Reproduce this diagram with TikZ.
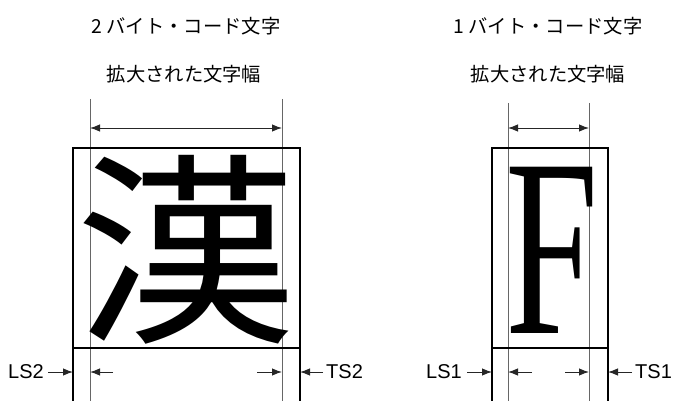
\documentclass[tikz,border=0pt]{standalone}
\usepackage{fontspec}
\setmainfont{Liberation Sans}
\newfontfamily\jpfont{Noto Sans CJK JP}
\newfontfamily\serifglyph{Liberation Serif}
\usetikzlibrary{arrows.meta}
\begin{document}
\begin{tikzpicture}[x=1pt,y=-1pt,
  thick edge/.style={line width=2pt,black},
  thin guide/.style={line width=1pt,black!60},
  dimarrow/.style={line width=1pt,black!85,-{Latex[length=10pt,width=7.5pt]}},
  dimboth/.style={line width=1pt,black!85,{Latex[length=10pt,width=7.5pt]}-{Latex[length=10pt,width=7.5pt]}},
  jplabel/.style={font=\jpfont\fontsize{19.3}{21}\selectfont,inner sep=0pt},
  lslabel/.style={font=\fontsize{20}{22}\selectfont,inner sep=0pt}]
\useasboundingbox (0,0) rectangle (674,401);

% ---------- headings ----------
\node[jplabel] (h2a) at (186,26) {2 バイト・コード文字};
\node[jplabel] (h2b) at (184,74) {拡大された文字幅};
\node[jplabel] (h1a) at (548,26) {1 バイト・コード文字};
\node[jplabel] (h1b) at (548,74) {拡大された文字幅};

% ---------- left (2-byte) ----------
\coordinate (L2top) at (90,99);   \coordinate (L2bot) at (90,401);
\coordinate (R2top) at (282,99);  \coordinate (R2bot) at (282,401);
\draw[thin guide] (L2top) -- (L2bot);
\draw[thin guide] (R2top) -- (R2bot);
\node[inner sep=0pt,font=\jpfont\fontsize{205}{205}\selectfont] (kan) at (186,250) {\scalebox{1.08}[1]{漢}};
\coordinate (B2tl) at (73,148); \coordinate (B2br) at (300,348);
\draw[thick edge] (B2tl) rectangle (B2br);
\coordinate (B2lb) at (73,401); \coordinate (B2rb) at (300,401);
\draw[thick edge] (B2tl) -- (B2lb);
\draw[thick edge] (300,148) -- (B2rb);
\coordinate (W2l) at (90,128); \coordinate (W2r) at (282,128);
\draw[dimboth] (W2l) -- (W2r);

\node[lslabel,anchor=east] (LS2) at (44,372) {LS2};
\coordinate (LS2e) at (73,372);
\draw[dimarrow] (LS2.east) ++(4,0) -- (LS2e);
\coordinate (a2s) at (113,372); \coordinate (a2e) at (90,372);
\draw[dimarrow] (a2s) -- (a2e);
\coordinate (b2s) at (257,372); \coordinate (b2e) at (282,372);
\draw[dimarrow] (b2s) -- (b2e);
\node[lslabel,anchor=west] (TS2) at (326,372) {TS2};
\coordinate (TS2e) at (300,372);
\draw[dimarrow] (TS2.west) ++(-3,0) -- (TS2e);

% ---------- right (1-byte) ----------
\coordinate (L1top) at (508,103); \coordinate (L1bot) at (508,401);
\coordinate (R1top) at (589,103); \coordinate (R1bot) at (589,401);
\draw[thin guide] (L1top) -- (L1bot);
\draw[thin guide] (R1top) -- (R1bot);
\node[inner sep=0pt,font=\serifglyph\fontsize{254}{254}\selectfont] (eff) at (552,250) {\scalebox{0.66}[1]{F}};
\coordinate (B1tl) at (492,148); \coordinate (B1br) at (608,348);
\draw[thick edge] (B1tl) rectangle (B1br);
\coordinate (B1lb) at (492,401); \coordinate (B1rb) at (608,401);
\draw[thick edge] (B1tl) -- (B1lb);
\draw[thick edge] (608,148) -- (B1rb);
\coordinate (W1l) at (508,128); \coordinate (W1r) at (589,128);
\draw[dimboth] (W1l) -- (W1r);

\node[lslabel,anchor=east] (LS1) at (462,372) {LS1};
\coordinate (LS1e) at (492,372);
\draw[dimarrow] (LS1.east) ++(5,0) -- (LS1e);
\coordinate (a1s) at (532,372); \coordinate (a1e) at (508,372);
\draw[dimarrow] (a1s) -- (a1e);
\coordinate (b1s) at (565,372); \coordinate (b1e) at (589,372);
\draw[dimarrow] (b1s) -- (b1e);
\node[lslabel,anchor=west] (TS1) at (635,372) {TS1};
\coordinate (TS1e) at (608,372);
\draw[dimarrow] (TS1.west) ++(-3,0) -- (TS1e);
\end{tikzpicture}
\end{document}
